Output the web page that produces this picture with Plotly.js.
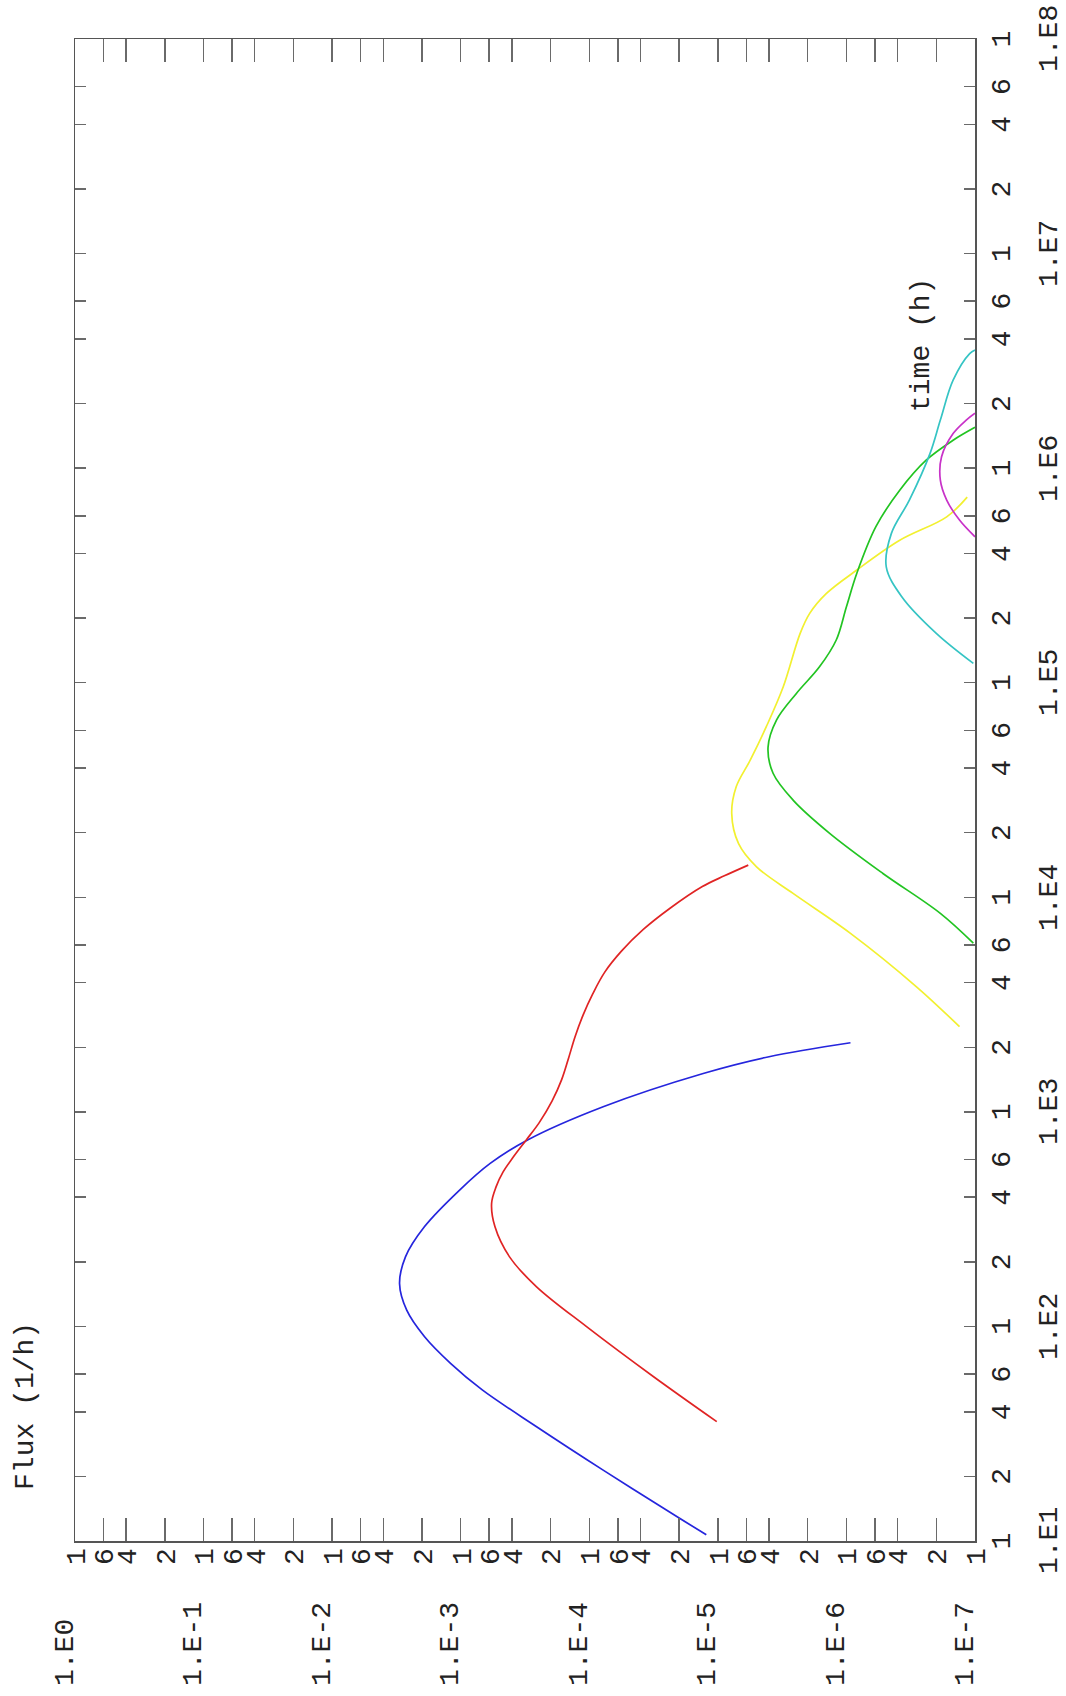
<!DOCTYPE html>
<html>
<head>
<meta charset="utf-8">
<script src="https://cdn.plot.ly/plotly-3.0.1.min.js"></script>
<style>
html, body { margin:0; padding:0; background:#fff; overflow:hidden; width:1066px; height:1696px; }
#wrap { position:absolute; left:0; top:0; width:1696px; height:1066px; transform-origin:0 0; transform:rotate(-90deg) translate(-1696px, 0); }
</style>
</head>
<body>
<div id="wrap"><div id="chart" style="width:1696px;height:1066px;"></div></div>
<script>
// ---- data (time in h, flux in 1/h) ----
const blueT = [10.7, 12.8, 21.4, 34.1, 50.6, 67.3, 89.5, 119, 158, 211, 292, 432, 575, 740, 1057, 1510, 1807, 2099];
const blueF = [1.23e-5, 2.0e-5, 7.8e-5, 2.57e-4, 6.8e-4, 1.20e-3, 1.91e-3, 2.63e-3, 2.99e-3, 2.69e-3, 1.91e-3, 1.02e-3, 5.9e-4, 3.02e-4, 7.8e-5, 1.30e-5, 4.0e-6, 9.3e-7];

const redT = [36, 58.3, 99.8, 153, 211, 292, 375, 447, 525, 617, 740, 891, 1122, 1413, 1778, 2239, 2818, 3548, 4467, 5623, 7079, 8913, 11220, 12589, 14125];
const redF = [1.02e-5, 3.16e-5, 1.05e-4, 2.57e-4, 4.17e-4, 5.42e-4, 5.75e-4, 5.31e-4, 4.68e-4, 3.89e-4, 3.09e-4, 2.45e-4, 1.95e-4, 1.64e-4, 1.45e-4, 1.29e-4, 1.12e-4, 9.4e-5, 7.6e-5, 5.6e-5, 3.8e-5, 2.34e-5, 1.32e-5, 8.9e-6, 5.8e-6];

const yellowT = [2495, 3828, 6792, 10423, 13868, 17783, 24547, 32734, 43551, 62373, 95719, 169824, 210378, 260615, 334965, 461000, 593000, 733000];
const yellowF = [1.32e-7, 2.85e-7, 9.3e-7, 2.60e-6, 5.0e-6, 6.9e-6, 7.8e-6, 7.2e-6, 5.6e-6, 4.2e-6, 3.1e-6, 2.29e-6, 1.93e-6, 1.43e-6, 8.3e-7, 3.85e-7, 1.66e-7, 1.15e-7];

const greenT = [6109, 8414, 12912, 19861, 28379, 37844, 50119, 66988, 89125, 118577, 158125, 225944, 323594, 533334, 788860, 1089000, 1349000, 1549000];
const greenF = [1.03e-7, 1.86e-7, 5.2e-7, 1.35e-6, 2.60e-6, 3.72e-6, 4.07e-6, 3.50e-6, 2.45e-6, 1.62e-6, 1.20e-6, 1.0e-6, 8.3e-7, 5.9e-7, 3.85e-7, 2.40e-7, 1.48e-7, 1.0e-7];

const cyanT = [123027, 169824, 251000, 346737, 496592, 709578, 1169000, 1675000, 2570000, 3420000, 3550000];
const cyanF = [1.03e-7, 2.0e-7, 3.7e-7, 4.9e-7, 4.47e-7, 3.24e-7, 2.24e-7, 1.86e-7, 1.48e-7, 1.10e-7, 1.0e-7];

const magentaT = [478630, 572796, 709578, 878900, 1130000, 1449000, 1675000, 1803000];
const magentaF = [1.0e-7, 1.32e-7, 1.66e-7, 1.86e-7, 1.82e-7, 1.48e-7, 1.17e-7, 1.0e-7];

// ---- axis ticks and labels ----
const timeTicks = [10,20,40,60, 100,200,400,600, 1e3,2e3,4e3,6e3, 1e4,2e4,4e4,6e4, 1e5,2e5,4e5,6e5, 1e6,2e6,4e6,6e6, 1e7,2e7,4e7,6e7, 1e8];
const timeTickText = ['1','2','4','6', '1','2','4','6', '1','2','4','6', '1','2','4','6', '1','2','4','6', '1','2','4','6', '1','2','4','6', '1'];
const timeDecades = [10, 100, 1e3, 1e4, 1e5, 1e6, 1e7, 1e8];
const timeDecadeText = ['1.E1','1.E2','1.E3','1.E4','1.E5','1.E6','1.E7','1.E8'];

const fluxTicks = [1e-7,2e-7,4e-7,6e-7, 1e-6,2e-6,4e-6,6e-6, 1e-5,2e-5,4e-5,6e-5, 1e-4,2e-4,4e-4,6e-4, 1e-3,2e-3,4e-3,6e-3, 1e-2,2e-2,4e-2,6e-2, 1e-1,2e-1,4e-1,6e-1, 1];
const fluxTickText = ['1','2','4','6', '1','2','4','6', '1','2','4','6', '1','2','4','6', '1','2','4','6', '1','2','4','6', '1','2','4','6', '1'];
const fluxDecades = [1, 1e-1, 1e-2, 1e-3, 1e-4, 1e-5, 1e-6, 1e-7];
const fluxDecadeText = ['1.E0','1.E-1','1.E-2','1.E-3','1.E-4','1.E-5','1.E-6','1.E-7'];

const FONT = 'Liberation Mono, Courier New, monospace';
const TXT = '#222';

function line(x, y, color) {
  return { x: x, y: y, type: 'scatter', mode: 'lines',
           line: { color: color, width: 1.7, shape: 'spline', smoothing: 1 },
           hoverinfo: 'skip' };
}

const traces = [
  line(blueT, blueF, '#2525dd'),
  line(redT, redF, '#e02424'),
  line(yellowT, yellowF, '#f2f030'),
  line(greenT, greenF, '#22c422'),
  line(cyanT, cyanF, '#35c4c4'),
  line(magentaT, magentaF, '#c832c8')
];

const annotations = [];
timeDecades.forEach((v, i) => {
  annotations.push({ x: Math.log10(v), xref: 'x', y: -0.0833, yref: 'paper',
    text: timeDecadeText[i], showarrow: false, xanchor: 'center', yanchor: 'middle',
    font: { family: FONT, size: 28, color: TXT } });
});
fluxDecades.forEach((v, i) => {
  annotations.push({ x: -0.0979, xref: 'paper', y: Math.log10(v), yref: 'y',
    text: fluxDecadeText[i], showarrow: false, xanchor: 'left', yanchor: 'middle', yshift: 10,
    font: { family: FONT, size: 28, color: TXT } });
});
annotations.push({ x: 0.7503, xref: 'paper', y: 0.0589, yref: 'paper',
  text: 'time (h)', showarrow: false, xanchor: 'left', yanchor: 'middle',
  font: { family: FONT, size: 28, color: TXT } });

const layout = {
  width: 1696, height: 1066,
  margin: { l: 155, r: 39, t: 75, b: 91, pad: 0 },
  paper_bgcolor: '#ffffff', plot_bgcolor: '#ffffff',
  showlegend: false,
  font: { family: FONT, size: 28, color: TXT },
  title: { text: 'Flux (1/h)', xref: 'paper', x: 0.034, xanchor: 'left',
           yref: 'container', y: 0.978, yanchor: 'middle',
           font: { family: FONT, size: 28, color: TXT } },
  xaxis: {
    type: 'log', range: [1, 8], tickmode: 'array', tickvals: timeTicks, ticktext: timeTickText,
    ticks: 'inside', ticklen: 11, tickwidth: 1.5, tickcolor: '#6a6a6a',
    showline: true, linecolor: '#555', linewidth: 1.5, mirror: 'ticks',
    showgrid: false, zeroline: false, tickangle: 0,
    tickfont: { family: FONT, size: 28, color: TXT }
  },
  yaxis: {
    type: 'log', range: [-7, 0], tickmode: 'array', tickvals: fluxTicks, ticktext: fluxTickText,
    ticks: 'inside', ticklen: 23, tickwidth: 1.5, tickcolor: '#6a6a6a',
    showline: true, linecolor: '#555', linewidth: 1.5, mirror: 'ticks',
    showgrid: false, zeroline: false,
    tickfont: { family: FONT, size: 28, color: TXT }
  },
  annotations: annotations
};

Plotly.newPlot('chart', traces, layout, { staticPlot: true, displayModeBar: false });
</script>
</body>
</html>
